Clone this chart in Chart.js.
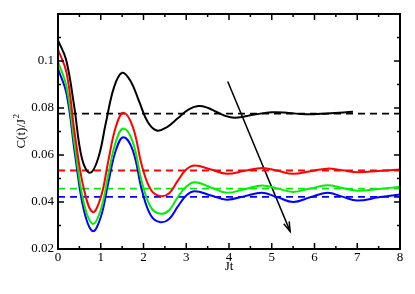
<!DOCTYPE html>
<html>
<head>
<meta charset="utf-8">
<script src="https://cdn.jsdelivr.net/npm/chart.js@4.4.1/dist/chart.umd.min.js"></script>
<style>
  html, body { margin: 0; padding: 0; background: #fff; }
  #wrap { width: 415px; height: 294px; }
</style>
</head>
<body>
<div id="wrap"><canvas id="corrChart" width="415" height="294"></canvas></div>
<script>
// Valeurs
const tBlack = [0, 0.19, 0.38, 0.56, 0.75, 0.94, 1.12, 1.31, 1.5, 1.7, 1.9, 2.1, 2.31, 2.55, 2.8, 3.05, 3.28, 3.5, 3.7, 3.92, 4.14, 4.6, 5.0, 5.4, 5.8, 6.3, 6.9];
const blackC = [0.1088, 0.1005, 0.0806, 0.0585, 0.0524, 0.0586, 0.0737, 0.0888, 0.095, 0.0914, 0.0827, 0.074, 0.0704, 0.0719, 0.0756, 0.0793, 0.0808, 0.0801, 0.0784, 0.0766, 0.0759, 0.0772, 0.0782, 0.0779, 0.0773, 0.0777, 0.0784];

const tColor = [0, 0.2, 0.4, 0.6, 0.81, 1.0, 1.17, 1.35, 1.53, 1.75, 1.97, 2.18, 2.4, 2.6, 2.8, 3.0, 3.2, 3.58, 3.95, 4.37, 4.78, 5.14, 5.5, 5.9, 6.3, 6.65, 7.0, 7.5, 8];
const redC   = [0.1049, 0.095, 0.068, 0.046, 0.0357, 0.0419, 0.0568, 0.0718, 0.078, 0.072, 0.055, 0.045, 0.0425, 0.0437, 0.049, 0.0538, 0.0555, 0.0538, 0.052, 0.0533, 0.0545, 0.0533, 0.052, 0.0531, 0.0542, 0.0535, 0.0527, 0.0532, 0.0538];
const greenC = [0.0997, 0.089, 0.063, 0.040, 0.0307, 0.0366, 0.051, 0.0655, 0.0713, 0.0655, 0.048, 0.0375, 0.035, 0.0365, 0.042, 0.0465, 0.0484, 0.0462, 0.0439, 0.0455, 0.047, 0.0457, 0.0443, 0.0457, 0.0471, 0.046, 0.0448, 0.0455, 0.0465];
const blueC  = [0.0967, 0.086, 0.060, 0.037, 0.0276, 0.0335, 0.0476, 0.0618, 0.0676, 0.062, 0.0445, 0.034, 0.0314, 0.0328, 0.038, 0.0428, 0.0446, 0.0428, 0.041, 0.0425, 0.0439, 0.042, 0.040, 0.042, 0.0439, 0.0423, 0.0406, 0.042, 0.0432];

// niveaux asymptotiques (tirets)
const limitT = [0, 8];
const limitBlack = 0.0776;
const limitRed = 0.0534;
const limitGreen = 0.0457;
const limitBlue = 0.0422;

// flèche
const arrowT = [3.97, 5.43];
const arrowC = [0.0913, 0.0275];

const xTicks = [0, 1, 2, 3, 4, 5, 6, 7, 8];
const yTicks = [0.02, 0.04, 0.06, 0.08, 0.1];

const serif = '"Liberation Serif", "Times New Roman", serif';

function toPoints(xs, ys) {
    return xs.map((x, i) => ({ x: x, y: ys[i] }));
}

function curve(xs, ys, color) {
    return {
        data: toPoints(xs, ys),
        borderColor: color,
        borderWidth: 2,
        pointRadius: 0,
        tension: 0.4,
        fill: false
    };
}

function dashed(level, color) {
    return {
        data: toPoints(limitT, [level, level]),
        borderColor: color,
        borderWidth: 1.8,
        borderDash: [7, 5],
        pointRadius: 0,
        fill: false
    };
}

// cadre, graduations intérieures, pointe de flèche et titres
const frameTicks = {
    id: 'frameTicks',
    afterDraw(chart) {
        const { ctx, chartArea: a, scales } = chart;
        const x = scales.x, y = scales.y;
        ctx.save();
        ctx.strokeStyle = '#000';
        ctx.lineWidth = 2;
        ctx.strokeRect(a.left, a.top, a.right - a.left, a.bottom - a.top);

        ctx.lineWidth = 1.5;
        ctx.beginPath();
        for (let i = 0; i <= 16; i++) {
            const px = x.getPixelForValue(i / 2);
            const len = i % 2 === 0 ? 6 : 3;
            ctx.moveTo(px, a.bottom); ctx.lineTo(px, a.bottom - len);
            ctx.moveTo(px, a.top); ctx.lineTo(px, a.top + len);
        }
        for (let i = 2; i <= 12; i++) {
            const py = y.getPixelForValue(i / 100);
            const len = i % 2 === 0 ? 6 : 3;
            ctx.moveTo(a.left, py); ctx.lineTo(a.left + len, py);
            ctx.moveTo(a.right, py); ctx.lineTo(a.right - len, py);
        }
        ctx.stroke();

        // pointe de flèche
        const meta = chart.getDatasetMeta(chart.data.datasets.length - 1);
        const p0 = meta.data[0], p1 = meta.data[1];
        const ang = Math.atan2(p1.y - p0.y, p1.x - p0.x);
        const head = 10;
        ctx.lineWidth = 1.5;
        ctx.beginPath();
        ctx.moveTo(p1.x - head * Math.cos(ang - 0.3), p1.y - head * Math.sin(ang - 0.3));
        ctx.lineTo(p1.x, p1.y);
        ctx.lineTo(p1.x - head * Math.cos(ang + 0.3), p1.y - head * Math.sin(ang + 0.3));
        ctx.stroke();

        // titres des axes
        ctx.fillStyle = '#000';
        ctx.font = '13px ' + serif;
        ctx.textAlign = 'center';
        ctx.textBaseline = 'middle';
        ctx.fillText('Jt', (a.left + a.right) / 2, 267);

        ctx.translate(20, (a.top + a.bottom) / 2);
        ctx.rotate(-Math.PI / 2);
        ctx.textAlign = 'left';
        ctx.textBaseline = 'alphabetic';
        const main = 'C(t)/J';
        ctx.font = '13px ' + serif;
        const w1 = ctx.measureText(main).width;
        ctx.font = '9px ' + serif;
        const w2 = ctx.measureText('2').width;
        const start = -(w1 + w2) / 2;
        ctx.font = '13px ' + serif;
        ctx.fillText(main, start, 5);
        ctx.font = '9px ' + serif;
        ctx.fillText('2', start + w1 + 0.5, -1);
        ctx.restore();
    }
};

function initChart() {
    const ctx = document.getElementById('corrChart').getContext('2d');
    return new Chart(ctx, {
        type: 'line',
        data: {
            datasets: [
                curve(tBlack, blackC, '#000000'),
                curve(tColor, redC, '#ff0000'),
                curve(tColor, greenC, '#00ee00'),
                curve(tColor, blueC, '#0000ff'),
                dashed(limitBlack, '#000000'),
                dashed(limitRed, '#ff0000'),
                dashed(limitGreen, '#00ee00'),
                dashed(limitBlue, '#0000ff'),
                {
                    data: toPoints(arrowT, arrowC),
                    borderColor: '#000000',
                    borderWidth: 1.5,
                    pointRadius: 0,
                    fill: false
                }
            ]
        },
        options: {
            responsive: false,
            animation: false,
            layout: { padding: { top: 14, right: 15, left: 0, bottom: 0 } },
            plugins: {
                legend: { display: false },
                tooltip: { enabled: false }
            },
            scales: {
                x: {
                    type: 'linear',
                    min: 0,
                    max: 8,
                    afterFit: (s) => { s.height = 45; },
                    afterBuildTicks: (s) => { s.ticks = xTicks.map(v => ({ value: v })); },
                    grid: { display: false, drawTicks: false },
                    border: { display: false },
                    ticks: {
                        color: '#000',
                        padding: 1,
                        maxRotation: 0,
                        font: { family: serif, size: 13 },
                        callback: (v) => String(v)
                    }
                },
                y: {
                    type: 'linear',
                    min: 0.02,
                    max: 0.12,
                    afterFit: (s) => { s.width = 58; },
                    afterBuildTicks: (s) => { s.ticks = yTicks.map(v => ({ value: v })); },
                    grid: { display: false, drawTicks: false },
                    border: { display: false },
                    ticks: {
                        color: '#000',
                        padding: 4,
                        font: { family: serif, size: 13 },
                        callback: (v) => String(+v.toFixed(2))
                    }
                }
            }
        },
        plugins: [frameTicks]
    });
}

document.addEventListener('DOMContentLoaded', function() {
    initChart();
});
</script>
</body>
</html>
